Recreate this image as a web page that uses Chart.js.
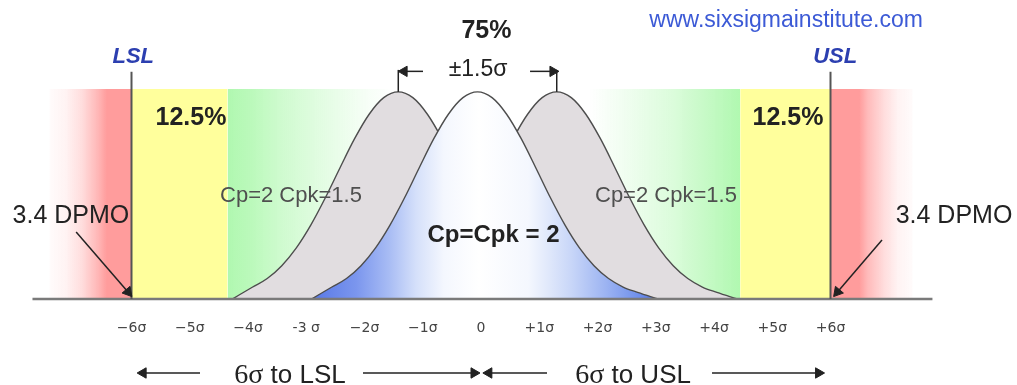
<!DOCTYPE html>
<html>
<head>
<meta charset="utf-8">
<title>Six Sigma - Cp e Cpk</title>
<script src="https://cdn.jsdelivr.net/npm/chart.js@4.4.0/dist/chart.umd.min.js"></script>
<style>
  body { margin: 0; background: #fff; }
  canvas { display: block; }
</style>
</head>
<body>
<canvas id="myChart1" width="1017" height="385"></canvas>
<script>
// eixo x em sigmas
let valoresEixo = [-6, -5, -4, -3, -2, -1, 0, 1, 2, 3, 4, 5, 6];
let rotulosEixo = ["−6σ", "−5σ", "−4σ", "-3 σ", "−2σ", "−1σ", "0", "+1σ", "+2σ", "+3σ", "+4σ", "+5σ", "+6σ"];

// forma da curva: distancia ao pico (em sigma) e altura relativa
let distanciaPico = [-2.85, -2.5, -2.25, -2.0, -1.75, -1.5, -1.25, -1.0, -0.75, -0.5, -0.25, 0, 0.25, 0.5, 0.75, 1.0, 1.25, 1.5, 1.75, 2.0, 2.25, 2.5, 2.75, 3.1];
let alturaCurva = [0, 0.058, 0.099, 0.161, 0.247, 0.358, 0.49, 0.634, 0.774, 0.892, 0.972, 1, 0.972, 0.892, 0.774, 0.634, 0.49, 0.358, 0.247, 0.161, 0.099, 0.058, 0.032, 0];

// pico de cada curva
let picoEsquerda = -1.42;
let picoCentral = -0.06;
let picoDireita = 1.3;

// limites de especificacao
let lsl = -6;
let usl = 6;
let alturaLimite = 1.097;

// faixas coloridas do fundo [inicio, fim]
let faixaVermelhaEsq = [-7.41, -6];
let faixaAmarelaEsq = [-6, -4.35];
let faixaVerdeEsq = [-4.35, -1.5];
let faixaVerdeDir = [1.86, 4.45];
let faixaAmarelaDir = [4.45, 6];
let faixaVermelhaDir = [6, 7.41];
let alturaFaixa = 1.014;

// linha de base
let linhaBase = [-7.7, 7.75];

// textos (posicao em unidades dos eixos)
let fonteSans = "'Liberation Sans', Arial, sans-serif";
let notas = [
  { texto: "www.sixsigmainstitute.com", x: 2.89, y: 1.314, fonte: "23px " + fonteSans, cor: "#3c5ad6", alinhar: "left" },
  { texto: "75%", x: 0.094, y: 1.259, fonte: "bold 25px " + fonteSans, cor: "#222" },
  { texto: "±1.5σ", x: -0.05, y: 1.077, fonte: "23px " + fonteSans, cor: "#222" },
  { texto: "LSL", x: -5.97, y: 1.14, fonte: "italic bold 22px " + fonteSans, cor: "#2c3fb0" },
  { texto: "USL", x: 6.08, y: 1.14, fonte: "italic bold 22px " + fonteSans, cor: "#2c3fb0" },
  { texto: "12.5%", x: -4.98, y: 0.841, fonte: "bold 25px " + fonteSans, cor: "#222" },
  { texto: "12.5%", x: 5.27, y: 0.841, fonte: "bold 25px " + fonteSans, cor: "#222" },
  { texto: "Cp=2 Cpk=1.5", x: -4.48, y: 0.469, fonte: "22px " + fonteSans, cor: "#4f4f4f", alinhar: "left" },
  { texto: "Cp=2 Cpk=1.5", x: 1.957, y: 0.469, fonte: "22px " + fonteSans, cor: "#4f4f4f", alinhar: "left" },
  { texto: "Cp=Cpk = 2", x: 0.215, y: 0.275, fonte: "bold 24px " + fonteSans, cor: "#222" },
  { texto: "3.4 DPMO", x: -7.04, y: 0.367, fonte: "25px " + fonteSans, cor: "#222" },
  { texto: "3.4 DPMO", x: 8.12, y: 0.367, fonte: "25px " + fonteSans, cor: "#222" },
];
let notasRodape = [
  { sigma: "6σ", resto: " to LSL", x: -3.28, y: -0.404 },
  { sigma: "6σ", resto: " to USL", x: 2.61, y: -0.404 },
];

// setas [inicio, fim(ponta), rotacao da ponta]
let setas = [
  [[-0.996, 1.099], [-1.32, 1.099], -90],
  [[0.842, 1.099], [1.235, 1.099], 90],
  [[-6.95, 0.324], [-6.06, 0.034], 140],
  [[6.884, 0.285], [6.12, 0.034], -140],
  [[-4.824, -0.357], [-5.8, -0.357], -90],
  [[-2.026, -0.357], [-0.12, -0.357], 90],
  [[1.133, -0.357], [0.135, -0.357], -90],
  [[3.966, -0.357], [5.795, -0.357], 90],
];

function gradienteHorizontal(chart, inicio, fim, paradas) {
  const eixoX = chart.scales.x;
  const g = chart.ctx.createLinearGradient(eixoX.getPixelForValue(inicio), 0, eixoX.getPixelForValue(fim), 0);
  paradas.forEach((p) => g.addColorStop(p[0], p[1]));
  return g;
}

function corGradiente(intervalo, paradas) {
  return function (context) {
    const chart = context.chart;
    if (!chart.chartArea || !chart.scales.x) return "rgba(0,0,0,0)";
    return gradienteHorizontal(chart, intervalo[0], intervalo[1], paradas);
  };
}

function faixa(intervalo, cor) {
  return {
    data: [{ x: intervalo[0], y: alturaFaixa }, { x: intervalo[1], y: alturaFaixa }],
    fill: "origin",
    backgroundColor: cor,
    borderWidth: 0,
    pointRadius: 0,
    order: 20,
  };
}

function curva(pico, preenchimento, ordem) {
  let pontos = [];
  for (let i = 0; i < distanciaPico.length; i++) {
    pontos.push({ x: pico + distanciaPico[i], y: alturaCurva[i] });
  }
  return {
    data: pontos,
    fill: "origin",
    backgroundColor: preenchimento,
    borderColor: "#4d4d4d",
    borderWidth: 1.4,
    pointRadius: 0,
    cubicInterpolationMode: "monotone",
    order: ordem,
  };
}

function linha(pontos, cor, largura, ordem) {
  return {
    data: pontos.map((p) => ({ x: p[0], y: p[1] })),
    fill: false,
    borderColor: cor,
    borderWidth: largura,
    pointRadius: 0,
    order: ordem,
  };
}

function seta(s) {
  return {
    data: [{ x: s[0][0], y: s[0][1] }, { x: s[1][0], y: s[1][1] }],
    fill: false,
    borderColor: "#222",
    borderWidth: 1.5,
    pointStyle: "triangle",
    pointRadius: [0, 6],
    pointRotation: [0, s[2]],
    pointBackgroundColor: "#222",
    pointBorderColor: "#222",
    pointBorderWidth: 1,
    order: 1,
  };
}

let vermelho = "255,156,156";
let verde = "176,248,176";

let dados = {
  datasets: [
    faixa(faixaVermelhaEsq, corGradiente(faixaVermelhaEsq, [
      [0, `rgba(${vermelho},0.04)`], [0.2, `rgba(${vermelho},0.12)`], [0.4, `rgba(${vermelho},0.35)`],
      [0.6, `rgba(${vermelho},0.75)`], [0.7, `rgba(${vermelho},1)`], [1, `rgba(${vermelho},1)`]])),
    faixa(faixaAmarelaEsq, "#ffff9c"),
    faixa(faixaVerdeEsq, corGradiente(faixaVerdeEsq, [
      [0, `rgba(${verde},1)`], [0.15, `rgba(${verde},0.85)`], [0.33, `rgba(${verde},0.6)`],
      [0.63, `rgba(${verde},0.3)`], [0.85, `rgba(${verde},0.1)`], [1, `rgba(${verde},0)`]])),
    faixa(faixaVerdeDir, corGradiente(faixaVerdeDir, [
      [0, `rgba(${verde},0)`], [0.25, `rgba(${verde},0.2)`], [0.55, `rgba(${verde},0.45)`],
      [0.8, `rgba(${verde},0.75)`], [1, `rgba(${verde},1)`]])),
    faixa(faixaAmarelaDir, "#ffff9c"),
    faixa(faixaVermelhaDir, corGradiente(faixaVermelhaDir, [
      [0, `rgba(${vermelho},1)`], [0.35, `rgba(${vermelho},1)`], [0.45, `rgba(${vermelho},0.7)`],
      [0.65, `rgba(${vermelho},0.35)`], [0.82, `rgba(${vermelho},0.12)`], [1, `rgba(${vermelho},0.04)`]])),

    // curvas deslocadas (Cpk=1.5) e curva centrada (Cpk=2)
    curva(picoEsquerda, "#e1dde0", 15),
    curva(picoDireita, "#e1dde0", 14),
    curva(picoCentral, corGradiente([picoCentral - 2.85, picoCentral + 3.1], [
      [0, "#5878e6"], [0.129, "#7b96ee"], [0.224, "#a8bcf4"], [0.302, "#d5e0fa"], [0.382, "#f4f7fe"],
      [0.483, "#ffffff"], [0.626, "#f4f7fe"], [0.684, "#e0e8fb"], [0.75, "#c8d6f8"], [0.848, "#9db4f2"],
      [0.943, "#7090ec"], [1, "#5070e0"]]), 10),

    linha([[linhaBase[0], 0], [linhaBase[1], 0]], "#7a7a7a", 2.5, 5),
    linha([[lsl, 0], [lsl, alturaLimite]], "#555", 2, 4),
    linha([[usl, 0], [usl, alturaLimite]], "#555", 2, 4),
    linha([[picoEsquerda, 1], [picoEsquerda, 1.106]], "#222", 1.5, 2),
    linha([[picoDireita, 1], [picoDireita, 1.106]], "#222", 1.5, 2),
  ],
};
setas.forEach((s) => dados.datasets.push(seta(s)));

// escreve os textos por cima do grafico
const pluginTextos = {
  id: "textos",
  afterDraw(chart) {
    const ctx = chart.ctx;
    const eixoX = chart.scales.x;
    const eixoY = chart.scales.y;
    ctx.save();
    ctx.textBaseline = "alphabetic";
    notas.forEach((n) => {
      ctx.font = n.fonte;
      ctx.fillStyle = n.cor;
      ctx.textAlign = n.alinhar || "center";
      ctx.fillText(n.texto, eixoX.getPixelForValue(n.x), eixoY.getPixelForValue(n.y));
    });
    ctx.textAlign = "left";
    ctx.fillStyle = "#222";
    notasRodape.forEach((n) => {
      const fonteSigma = "28px 'Liberation Serif', 'Times New Roman', serif";
      const fonteResto = "26px " + fonteSans;
      ctx.font = fonteSigma;
      const l1 = ctx.measureText(n.sigma).width;
      ctx.font = fonteResto;
      const l2 = ctx.measureText(n.resto).width;
      let px = eixoX.getPixelForValue(n.x) - (l1 + l2) / 2;
      const py = eixoY.getPixelForValue(n.y);
      ctx.font = fonteSigma;
      ctx.fillText(n.sigma, px, py);
      ctx.font = fonteResto;
      ctx.fillText(n.resto, px + l1, py);
    });
    ctx.restore();
  },
};

const config = {
  type: "line",
  data: dados,
  options: {
    responsive: false,
    animation: false,
    devicePixelRatio: 1,
    events: [],
    layout: { autoPadding: false, padding: { left: 15, right: 70, top: 9, bottom: 0 } },
    plugins: { legend: { display: false }, tooltip: { enabled: false } },
    scales: {
      x: {
        type: "linear",
        position: { y: 0 },
        min: -8,
        max: 8,
        grid: { display: false, drawTicks: false },
        border: { display: false },
        afterBuildTicks: (eixo) => {
          eixo.ticks = valoresEixo.map((v) => ({ value: v }));
        },
        afterFit: (eixo) => {
          eixo.height = 0;
        },
        ticks: {
          autoSkip: false,
          maxRotation: 0,
          padding: 21,
          color: "#444",
          font: { family: "'DejaVu Sans', sans-serif", size: 14 },
          callback: (valor) => rotulosEixo[valoresEixo.indexOf(valor)],
        },
      },
      y: { display: false, min: -0.415, max: 1.4 },
    },
  },
  plugins: [pluginTextos],
};

let myChart1 = new Chart(document.getElementById("myChart1"), config);
</script>
</body>
</html>
